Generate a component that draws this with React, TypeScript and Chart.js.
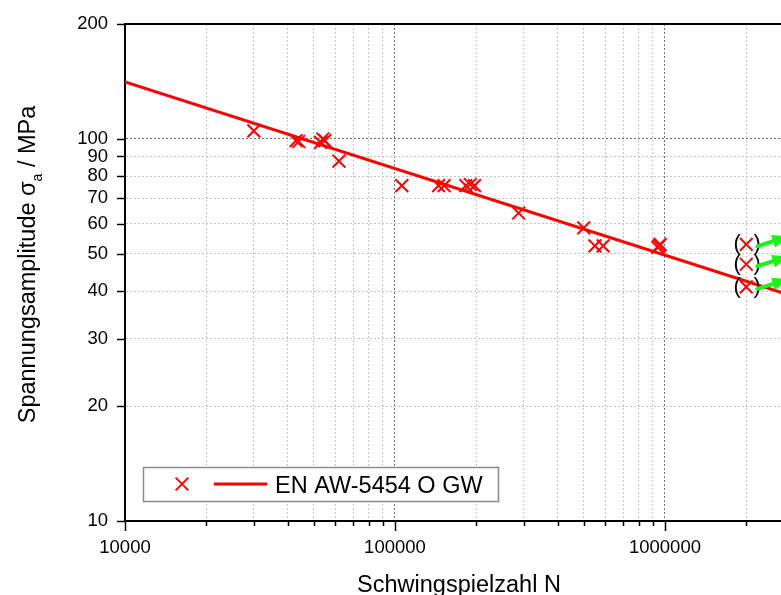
import { useEffect, useRef } from 'react';
import { Chart, registerables } from 'chart.js';

Chart.register(...registerables);

const SERIES_LABEL = 'EN AW-5454 O GW';
const X_TITLE = 'Schwingspielzahl N';
const Y_TITLE_MAIN = 'Spannungsamplitude σ';
const Y_TITLE_SUB = 'a';
const Y_TITLE_UNIT = ' / MPa';

// Fractured specimens: cycles to failure and stress amplitude in MPa
const failureCycles = [
  30000, 43000, 44000, 53000, 54000, 55000, 62000, 106000, 145000, 152000,
  183000, 190000, 197000, 287000, 500000, 550000, 590000, 940000, 950000, 960000,
];
const failureStress = [
  105, 99, 98.5, 98, 100, 99, 87.5, 75.5, 75.5, 75.5,
  75.5, 76, 75.5, 64, 58.5, 52.5, 52.5, 52, 52.5, 53,
];

// Run-outs (test stopped without failure)
const runoutCycles = [2000000, 2000000, 2000000];
const runoutStress = [53, 47, 41];

// Fitted S-N line (Basquin) end points
const fitCycles = [10000, 3000000];
const fitStress = [141, 38.7];

// Axis ticks
const xTickValues = [
  10000, 20000, 30000, 40000, 50000, 60000, 70000, 80000, 90000,
  100000, 200000, 300000, 400000, 500000, 600000, 700000, 800000, 900000,
  1000000, 2000000,
];
const xLabelValues = [10000, 100000, 1000000];
const yTickValues = [10, 20, 30, 40, 50, 60, 70, 80, 90, 100, 200];

const X_MIN = 10000;
const X_MAX = 2690000;
const Y_MIN = 10;
const Y_MAX = 200;

const FONT = "'Liberation Sans', Arial, sans-serif";
const RED = '#ff0000';
const GREEN = '#19f519';

const toPoints = (xs: number[], ys: number[]) => xs.map((x, i) => ({ x, y: ys[i] }));

const isDecade = (v: number) => Math.abs(Math.log10(v) - Math.round(Math.log10(v))) < 1e-9;

const drawCross = (ctx: CanvasRenderingContext2D, x: number, y: number, r: number) => {
  const d = r * Math.SQRT1_2;
  ctx.beginPath();
  ctx.moveTo(x - d, y - d);
  ctx.lineTo(x + d, y + d);
  ctx.moveTo(x - d, y + d);
  ctx.lineTo(x + d, y - d);
  ctx.stroke();
};

const extras = {
  id: 'extras',
  afterDraw(chart: any) {
    const { ctx, chartArea: ca, scales } = chart;
    const xs = scales.x;
    const ys = scales.y;
    ctx.save();

    // top frame line
    ctx.strokeStyle = '#000';
    ctx.lineWidth = 2;
    ctx.beginPath();
    ctx.moveTo(ca.left, ca.top);
    ctx.lineTo(ca.right, ca.top);
    ctx.stroke();

    // tick marks
    ctx.lineWidth = 1.5;
    for (const v of yTickValues) {
      const y = Math.round(ys.getPixelForValue(v)) + 0.5;
      ctx.beginPath();
      ctx.moveTo(ca.left - 8, y);
      ctx.lineTo(ca.left, y);
      ctx.stroke();
    }
    for (const v of xTickValues) {
      const x = Math.round(xs.getPixelForValue(v)) + 0.5;
      const len = isDecade(v) ? 10 : 5;
      ctx.beginPath();
      ctx.moveTo(x, ca.bottom);
      ctx.lineTo(x, ca.bottom + len);
      ctx.stroke();
    }

    // run-out markers: brackets and arrows
    const meta = chart.getDatasetMeta(1);
    ctx.font = `22px ${FONT}`;
    ctx.textAlign = 'center';
    ctx.textBaseline = 'alphabetic';
    ctx.fillStyle = '#000';
    for (const el of meta.data) {
      const px = el.x;
      const py = el.y;
      ctx.fillText('(', px - 9, py + 6);
      ctx.fillText(')', px + 11, py + 6);
    }
    for (const el of meta.data) {
      const sx = el.x + 11;
      const sy = el.y + 2;
      const tx = el.x + 42;
      const ty = el.y - 8;
      const ang = Math.atan2(ty - sy, tx - sx);
      const head = 16;
      const hw = 6.5;
      const bx = tx - head * Math.cos(ang);
      const by = ty - head * Math.sin(ang);
      ctx.strokeStyle = GREEN;
      ctx.fillStyle = GREEN;
      ctx.lineWidth = 4;
      ctx.lineCap = 'round';
      ctx.beginPath();
      ctx.moveTo(sx, sy);
      ctx.lineTo(bx, by);
      ctx.stroke();
      ctx.beginPath();
      ctx.moveTo(tx, ty);
      ctx.lineTo(bx + hw * Math.sin(ang), by - hw * Math.cos(ang));
      ctx.lineTo(bx - hw * Math.sin(ang), by + hw * Math.cos(ang));
      ctx.closePath();
      ctx.fill();
    }

    // legend
    const lx = 143;
    const ly = 467;
    const lw = 355;
    const lh = 34;
    ctx.fillStyle = '#fff';
    ctx.fillRect(lx, ly, lw, lh);
    ctx.strokeStyle = '#8a8a8a';
    ctx.lineWidth = 1.5;
    ctx.strokeRect(lx + 0.5, ly + 0.5, lw, lh);
    const cy = ly + lh / 2;
    ctx.strokeStyle = RED;
    ctx.lineWidth = 2;
    ctx.lineCap = 'butt';
    drawCross(ctx, 182, cy, 9);
    ctx.lineWidth = 3;
    ctx.beginPath();
    ctx.moveTo(214, cy);
    ctx.lineTo(267, cy);
    ctx.stroke();
    ctx.fillStyle = '#000';
    ctx.font = `23.5px ${FONT}`;
    ctx.textAlign = 'left';
    ctx.textBaseline = 'alphabetic';
    ctx.fillText(SERIES_LABEL, 275, cy + 8.5);

    // x axis title
    ctx.textAlign = 'center';
    ctx.fillText(X_TITLE, 459, 592);

    // y axis title with subscript
    const mainFont = `23.5px ${FONT}`;
    const subFont = `14px ${FONT}`;
    ctx.font = mainFont;
    const w1 = ctx.measureText(Y_TITLE_MAIN).width;
    const w3 = ctx.measureText(Y_TITLE_UNIT).width;
    ctx.font = subFont;
    const w2 = ctx.measureText(Y_TITLE_SUB).width;
    const total = w1 + w2 + w3;
    ctx.translate(35, 264.5);
    ctx.rotate(-Math.PI / 2);
    ctx.textAlign = 'left';
    let cx = -total / 2;
    ctx.font = mainFont;
    ctx.fillText(Y_TITLE_MAIN, cx, 0);
    cx += w1;
    ctx.font = subFont;
    ctx.fillText(Y_TITLE_SUB, cx, 7);
    cx += w2;
    ctx.font = mainFont;
    ctx.fillText(Y_TITLE_UNIT, cx, 0);

    ctx.restore();
  },
};

export default function App() {
  const canvasRef = useRef<HTMLCanvasElement | null>(null);

  useEffect(() => {
    document.body.style.margin = '0';
    const canvas = canvasRef.current;
    if (!canvas) return;

    const chart = new Chart(canvas, {
      type: 'scatter',
      data: {
        datasets: [
          {
            label: SERIES_LABEL,
            data: toPoints(failureCycles, failureStress),
            pointStyle: 'crossRot',
            pointRadius: 9,
            pointBorderWidth: 2,
            pointBorderColor: RED,
            pointBackgroundColor: RED,
            showLine: false,
          },
          {
            label: 'Durchläufer',
            data: toPoints(runoutCycles, runoutStress),
            pointStyle: 'crossRot',
            pointRadius: 9,
            pointBorderWidth: 2,
            pointBorderColor: RED,
            pointBackgroundColor: RED,
            showLine: false,
          },
          {
            label: 'Wöhlerlinie',
            data: toPoints(fitCycles, fitStress),
            showLine: true,
            borderColor: RED,
            borderWidth: 3,
            pointRadius: 0,
            fill: false,
          },
        ],
      },
      options: {
        responsive: false,
        animation: false,
        devicePixelRatio: 1,
        layout: { autoPadding: false, padding: { top: 24, right: 0, left: 0, bottom: 0 } },
        plugins: {
          legend: { display: false },
          tooltip: { enabled: false },
        },
        scales: {
          x: {
            type: 'logarithmic',
            position: 'bottom',
            min: X_MIN,
            max: X_MAX,
            afterBuildTicks: (scale: any) => {
              scale.ticks = xTickValues.map((value) => ({ value }));
            },
            afterFit: (scale: any) => {
              scale.height = 74;
              scale.paddingLeft = 0;
              scale.paddingRight = 0;
            },
            ticks: {
              autoSkip: false,
              maxRotation: 0,
              padding: 16,
              color: '#000',
              font: { family: FONT, size: 18.5 },
              callback: (value: any) => (xLabelValues.includes(Number(value)) ? String(value) : ''),
            },
            grid: {
              drawTicks: false,
              lineWidth: 1,
              color: (c: any) => {
                const v = c.tick?.value;
                if (v === X_MIN) return 'rgba(0,0,0,0)';
                return isDecade(v) ? '#6e6e6e' : '#c4c4c4';
              },
            },
            border: { display: true, color: '#000', width: 2, dash: [2, 2] },
          },
          y: {
            type: 'logarithmic',
            position: 'left',
            min: Y_MIN,
            max: Y_MAX,
            afterBuildTicks: (scale: any) => {
              scale.ticks = yTickValues.map((value) => ({ value }));
            },
            afterFit: (scale: any) => {
              scale.width = 125;
              scale.paddingTop = 0;
              scale.paddingBottom = 0;
            },
            ticks: {
              autoSkip: false,
              padding: 17,
              color: '#000',
              font: { family: FONT, size: 18.5 },
              callback: (value: any) => String(value),
            },
            grid: {
              drawTicks: false,
              lineWidth: 1,
              color: (c: any) => {
                const v = c.tick?.value;
                if (v === Y_MIN || v === Y_MAX) return 'rgba(0,0,0,0)';
                return v === 100 ? '#6e6e6e' : '#c4c4c4';
              },
            },
            border: { display: true, color: '#000', width: 2, dash: [2, 2] },
          },
        },
      },
      plugins: [extras],
    } as any);

    return () => chart.destroy();
  }, []);

  return (
    <div style={{ position: 'absolute', left: 0, top: 0, width: 781, height: 595 }}>
      <canvas ref={canvasRef} width={781} height={595} style={{ width: 781, height: 595 }} />
    </div>
  );
}
